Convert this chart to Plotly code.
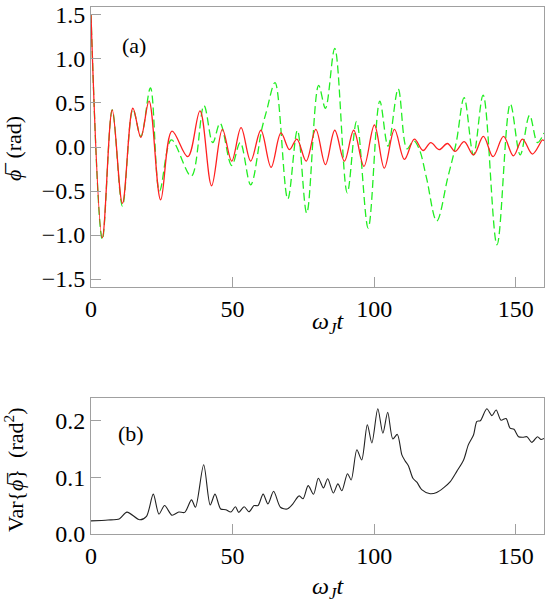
import plotly.graph_objects as go

# ---- data ----
t_red = [0, 4.0, 7.5, 11.1, 14.8, 17.6, 20.5, 24.6, 28.6, 34.2, 38.5, 42.6, 46.4, 49.7, 53.0,
         56.4, 60.0, 63.6, 67.1, 70.1, 72.7, 76.0, 79.4, 82.8, 86.1, 89.5, 92.8, 96.4, 100.1,
         103.6, 107.2, 110.7, 114.2, 117.3, 120.0, 123.0, 125.9, 128.6, 131.8, 135.1, 138.6,
         142.0, 145.7, 149.2, 152.4, 155.9, 159.5, 160]
phi_red = [1.5, -1.03, 0.42, -0.64, 0.44, 0.11, 0.52, -0.60, 0.18, -0.11, 0.41, -0.44, 0.20, -0.16, 0.22,
           -0.16, 0.19, -0.23, 0.16, -0.03, 0.09, -0.16, 0.20, -0.20, 0.19, -0.16, 0.19, -0.22, 0.25,
           -0.24, 0.20, -0.14, 0.09, -0.04, 0.05, -0.03, 0.04, -0.05, 0.06, -0.09, 0.12,
           -0.11, 0.12, -0.10, 0.09, -0.08, 0.08, 0.07]

t_green = [0, 4.0, 7.5, 11.1, 14.8, 17.6, 21.0, 24.2, 28.4, 35.4, 39.9, 43.0, 45.6, 49.7, 52.7,
           56.4, 60.3, 62.1, 65.0, 69.5, 72.9, 76.2, 80.4, 82.8, 86.1, 90.5, 93.8, 97.9, 102.0,
           104.9, 108.5, 111.6, 114.0, 116.0, 118.5, 122.1, 126.0, 129.0, 131.8, 135.1, 138.5,
           143.4, 148.1, 151.6, 154.9, 157.7, 160]
phi_green = [1.5, -1.05, 0.42, -0.67, 0.43, 0.12, 0.67, -0.50, 0.08, -0.33, 0.47, 0.05, 0.27, -0.21, 0.05,
             -0.43, 0.20, 0.42, 0.73, -0.59, 0.19, -0.75, 0.70, 0.44, 1.12, -0.52, 0.29, -0.92, 0.52,
             0.01, 0.66, -0.02, 0.07, -0.03, -0.35, -0.84, -0.35, 0.05, 0.56, -0.09, 0.59,
             -1.11, 0.49, -0.09, 0.36, 0.05, 0.16]

t_var = [0, 6, 10.1, 12.7, 17.2, 19.6, 22.0, 24.0, 26.0, 28.6, 31.0, 33.1, 35.5, 36.9, 39.8, 42.1,
         43.8, 45.8, 47.6, 49.4, 51.0, 52.2, 54.1, 55.8, 57.6, 59.0, 60.8, 62.5, 64.5, 66.9, 69.3,
         71.3, 73.5, 74.9, 76.7, 78.6, 80.3, 82.1, 83.6, 85.6, 87.2, 88.6, 90.6, 91.9, 93.9, 95.6,
         97.6, 99.2, 101.3, 103.1, 104.8, 106.6, 108.2, 109.8, 111.0, 112.1, 113.7, 115.1, 116.8,
         119.8, 122.1, 124.5, 126.9, 129.2, 131.6, 133.3, 135.1, 136.3, 137.5, 139.8, 141.6, 143.1,
         144.8, 146.6, 148.0, 149.4, 151.0, 152.5, 154.0, 155.7, 157.7, 158.9, 160]
var_phi = [0.023, 0.0245, 0.027, 0.0385, 0.025, 0.031, 0.070, 0.035, 0.050, 0.033, 0.0386, 0.038, 0.060,
           0.047, 0.1216, 0.051, 0.070, 0.044, 0.0427, 0.0386, 0.048, 0.038, 0.048, 0.039, 0.050, 0.050,
           0.070, 0.053, 0.075, 0.047, 0.044, 0.053, 0.067, 0.062, 0.085, 0.070, 0.098, 0.081, 0.097,
           0.072, 0.088, 0.076, 0.106, 0.095, 0.148, 0.130, 0.192, 0.160, 0.220, 0.177, 0.214, 0.167,
           0.175, 0.139, 0.128, 0.120, 0.098, 0.091, 0.078, 0.0707, 0.073, 0.081, 0.092, 0.110, 0.130,
           0.157, 0.174, 0.198, 0.199, 0.220, 0.208, 0.218, 0.200, 0.203, 0.186, 0.184, 0.171, 0.170,
           0.171, 0.161, 0.171, 0.166, 0.168]

x_ticks = [0, 50, 100, 150]
y1_ticks = [-1.5, -1.0, -0.5, 0.0, 0.5, 1.0, 1.5]
y1_labels = ["−1.5", "−1.0", "−0.5", "0.0", "0.5", "1.0", "1.5"]
y2_ticks = [0.0, 0.1, 0.2]
y2_labels = ["0.0", "0.1", "0.2"]

FONT = "'Liberation Serif', 'Times New Roman', Times, serif"
W, H = 545, 607
L, R, T, B = 91, 1, 7, 73

fig = go.Figure()
fig.add_trace(go.Scatter(x=t_green, y=phi_green, mode="lines", xaxis="x", yaxis="y",
                         line=dict(color="#22ee22", width=1.3, dash="8px,4px", shape="spline", smoothing=1.0),
                         showlegend=False))
fig.add_trace(go.Scatter(x=t_red, y=phi_red, mode="lines", xaxis="x", yaxis="y",
                         line=dict(color="#ff2020", width=1.3, shape="spline", smoothing=1.0),
                         showlegend=False))
fig.add_trace(go.Scatter(x=t_var, y=var_phi, mode="lines", xaxis="x2", yaxis="y2",
                         line=dict(color="#222222", width=1.1, shape="spline", smoothing=0.8),
                         showlegend=False))

axcommon = dict(showline=True, linecolor="#a0a0a0", linewidth=1, mirror=True,
                ticks="inside", tickcolor="#a0a0a0", ticklen=10, tickwidth=1,
                showgrid=False, zeroline=False,
                tickfont=dict(family=FONT, size=24, color="black"))

plot_h = H - T - B
top_lo = (H - B - 287) / plot_h
bot_hi = (H - B - 398) / plot_h

fig.update_layout(
    width=W, height=H,
    margin=dict(l=L, r=R, t=T, b=B),
    paper_bgcolor="white", plot_bgcolor="white",
    font=dict(family=FONT, size=22, color="black"),
    xaxis=dict(domain=[0, 1], range=[0, 160], tickvals=x_ticks, anchor="y", **axcommon),
    yaxis=dict(domain=[top_lo, 1], range=[-1.59, 1.59], tickvals=y1_ticks, ticktext=y1_labels,
               anchor="x", **axcommon),
    xaxis2=dict(domain=[0, 1], range=[0, 160], tickvals=x_ticks, anchor="y2", **axcommon),
    yaxis2=dict(domain=[0, bot_hi], range=[0, 0.239], tickvals=y2_ticks, ticktext=y2_labels,
                anchor="x2", **axcommon),
)

def px_to_paper_x(px):
    return (px - L) / (W - L - R)

def px_to_paper_y(py):
    return (H - B - py) / plot_h

annots = [
    dict(text="(a)", x=px_to_paper_x(134), y=px_to_paper_y(45), size=22, angle=0),
    dict(text="(b)", x=px_to_paper_x(131), y=px_to_paper_y(433), size=22, angle=0),
    dict(text="<i>ω<sub>J</sub>t</i>", x=px_to_paper_x(328), y=px_to_paper_y(323), size=24, angle=0),
    dict(text="<i>ω<sub>J</sub>t</i>", x=px_to_paper_x(328), y=px_to_paper_y(588), size=24, angle=0),
    dict(text="<i>ϕ\u0305</i>  (rad)", x=px_to_paper_x(14), y=px_to_paper_y(149), size=22, angle=-90),
    dict(text="Var{<i>ϕ\u0305</i>}  (rad<sup>2</sup>)", x=px_to_paper_x(14), y=px_to_paper_y(470), size=22, angle=-90),
]
for a in annots:
    fig.add_annotation(text=a["text"], x=a["x"], y=a["y"], xref="paper", yref="paper",
                       showarrow=False, xanchor="center", yanchor="middle", textangle=a["angle"],
                       font=dict(family=FONT, size=a["size"], color="black"))

fig.write_html("out.html")
